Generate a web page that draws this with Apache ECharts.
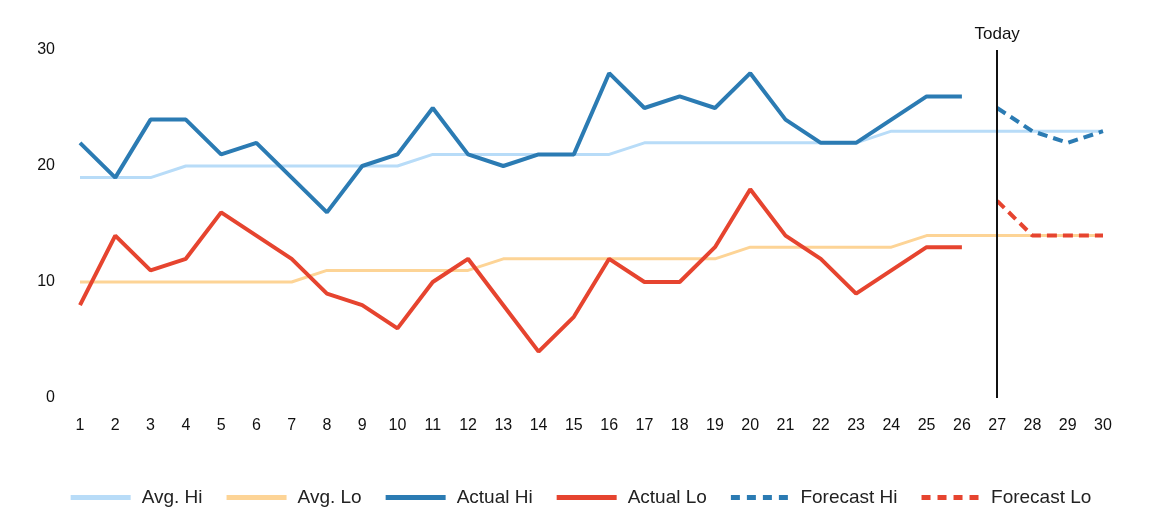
<!DOCTYPE html>
<html>
<head>
<meta charset="utf-8">
<script src="https://cdn.jsdelivr.net/npm/echarts@6/dist/echarts.min.js"></script>
<style>
  html, body { margin: 0; padding: 0; background: #fff; }
  #chart { width: 1162px; height: 531px; }
</style>
</head>
<body>
<div id="chart"></div>
<script>
var days = [];
for (var d = 1; d <= 30; d++) days.push(String(d));

var avgHi = [19, 19, 19, 20, 20, 20, 20, 20, 20, 20, 21, 21, 21, 21, 21, 21, 22, 22, 22, 22, 22, 22, 22, 23, 23, 23, 23, 23, 23, 23];
var avgLo = [10, 10, 10, 10, 10, 10, 10, 11, 11, 11, 11, 11, 12, 12, 12, 12, 12, 12, 12, 13, 13, 13, 13, 13, 14, 14, 14, 14, 14, 14];
var actualHi = [22, 19, 24, 24, 21, 22, 19, 16, 20, 21, 25, 21, 20, 21, 21, 28, 25, 26, 25, 28, 24, 22, 22, 24, 26, 26, null, null, null, null];
var actualLo = [8, 14, 11, 12, 16, 14, 12, 9, 8, 6, 10, 12, 8, 4, 7, 12, 10, 10, 13, 18, 14, 12, 9, 11, 13, 13, null, null, null, null];
var forecastHi = [null, null, null, null, null, null, null, null, null, null, null, null, null, null, null, null, null, null, null, null, null, null, null, null, null, null, 25, 23, 22, 23];
var forecastLo = [null, null, null, null, null, null, null, null, null, null, null, null, null, null, null, null, null, null, null, null, null, null, null, null, null, null, 17, 14, 14, 14];
var yTicks = [0, 10, 20, 30];
var todayDay = '27';

var textFont = 'Liberation Sans';
var solidIcon = 'rect';
var dashIcon = 'path://M0,0h9v5h-9z M16,0h9v5h-9z M32,0h9v5h-9z M48,0h9v5h-9z';

function lineSeries(name, data, color, width, dashed) {
    return {
        name: name,
        type: 'line',
        data: data,
        symbol: 'none',
        lineStyle: {
            color: color,
            width: width,
            type: dashed ? [10, 6] : 'solid'
        },
        itemStyle: { color: color }
    };
}

var chart = echarts.init(document.getElementById('chart'));

var series = [
    lineSeries('Avg. Hi', avgHi, '#b8dcf8', 3, false),
    lineSeries('Avg. Lo', avgLo, '#fdd496', 3, false),
    lineSeries('Actual Hi', actualHi, '#2b7bb3', 4, false),
    lineSeries('Actual Lo', actualLo, '#e6442f', 4, false),
    lineSeries('Forecast Hi', forecastHi, '#2b7bb3', 4, true),
    lineSeries('Forecast Lo', forecastLo, '#e6442f', 4, true)
];

// vertical "Today" marker
series[0].markLine = {
    silent: true,
    symbol: 'none',
    animation: false,
    lineStyle: { color: '#111', width: 2, type: 'solid' },
    label: {
        show: true,
        position: 'end',
        formatter: 'Today',
        color: '#111',
        fontFamily: textFont,
        fontSize: 17,
        distance: 7
    },
    data: [{ xAxis: todayDay }]
};

chart.setOption({
    animation: false,
    textStyle: { fontFamily: textFont },
    grid: {
        left: 80,
        right: 59,
        top: 50,
        bottom: 133
    },
    xAxis: {
        type: 'category',
        data: days,
        boundaryGap: false,
        axisLine: { show: false },
        axisTick: { show: false },
        splitLine: { show: false },
        axisLabel: {
            color: '#111',
            fontFamily: textFont,
            fontSize: 16,
            margin: 20,
            interval: 0
        }
    },
    yAxis: {
        type: 'value',
        min: yTicks[0],
        max: yTicks[yTicks.length - 1],
        interval: 10,
        axisLine: { show: false },
        axisTick: { show: false },
        splitLine: { show: false },
        axisLabel: {
            color: '#111',
            fontFamily: textFont,
            fontSize: 16,
            margin: 25
        }
    },
    legend: {
        bottom: 19,
        left: 'center',
        itemWidth: 60,
        itemHeight: 5,
        itemGap: 24,
        textStyle: {
            color: '#222',
            fontFamily: textFont,
            fontSize: 19,
            padding: [0, 0, 0, 6]
        },
        data: [
            { name: 'Avg. Hi', icon: solidIcon },
            { name: 'Avg. Lo', icon: solidIcon },
            { name: 'Actual Hi', icon: solidIcon },
            { name: 'Actual Lo', icon: solidIcon },
            { name: 'Forecast Hi', icon: dashIcon },
            { name: 'Forecast Lo', icon: dashIcon }
        ]
    },
    series: series
});
</script>
</body>
</html>
